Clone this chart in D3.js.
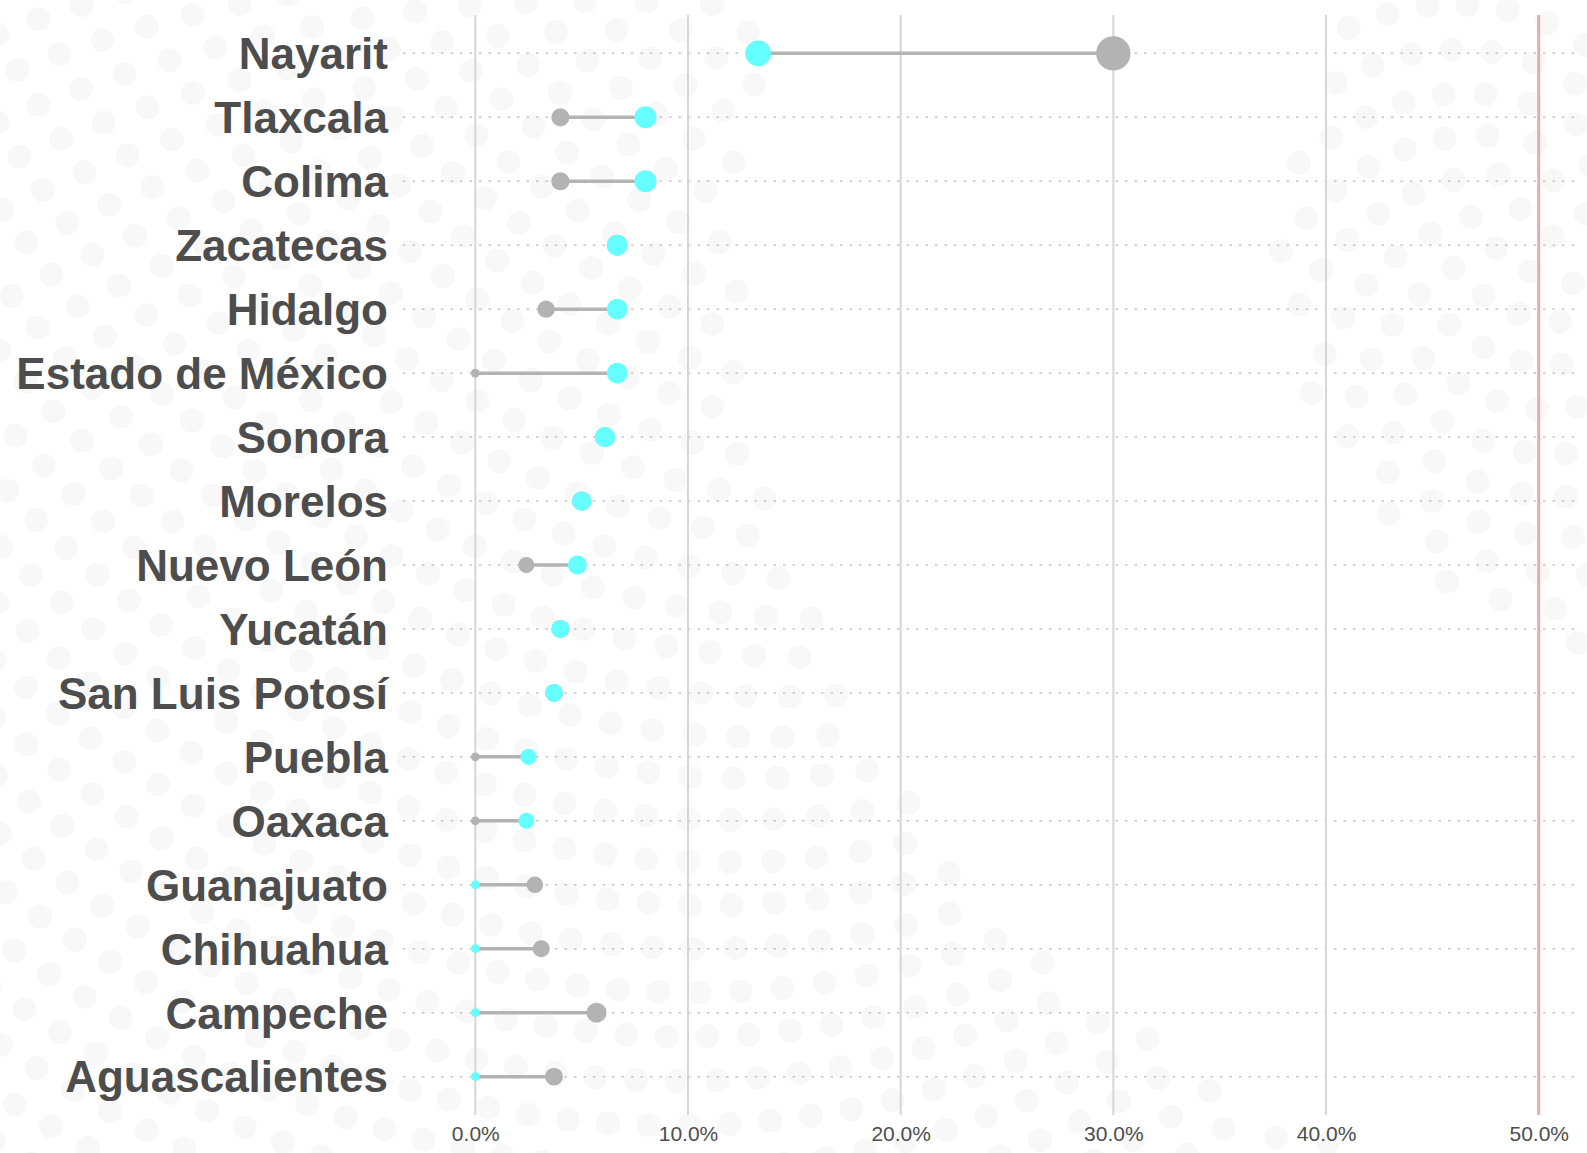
<!DOCTYPE html>
<html>
<head>
<meta charset="utf-8">
<script src="https://cdn.jsdelivr.net/npm/d3@7"></script>
<style>
  body { margin: 0; background: #fff; }
  svg { display: block; font-family: "Liberation Sans", Arial, sans-serif; }
</style>
</head>
<body>
<div id="chart"></div>
<script>
const W = 1587, H = 1153;

// estados, de arriba abajo
const estados = ["Nayarit", "Tlaxcala", "Colima", "Zacatecas", "Hidalgo", "Estado de México",
  "Sonora", "Morelos", "Nuevo León", "Yucatán", "San Luis Potosí", "Puebla", "Oaxaca",
  "Guanajuato", "Chihuahua", "Campeche", "Aguascalientes"];
// serie gris (anterior)
const anterior = [0.300, 0.040, 0.040, 0.0667, 0.0333, 0, 0.061, 0.050, 0.024, 0.040, 0.037,
  0, 0, 0.028, 0.031, 0.057, 0.037];
// serie cian (actual)
const actual = [0.133, 0.080, 0.080, 0.0667, 0.0667, 0.0667, 0.061, 0.050, 0.048, 0.040, 0.037,
  0.025, 0.024, 0, 0, 0, 0];
const ticks = [0, 0.1, 0.2, 0.3, 0.4, 0.5];
const meta = 0.5;

const data = estados.map((e, i) => ({ estado: e, a: anterior[i], b: actual[i] }));

const panel = { left: 403, right: 1577, top: 15, bottom: 1115 };

const svg = d3.select("#chart").append("svg")
  .attr("width", W).attr("height", H);

// ! fondo decorativo de puntos (espiral)
const bg = svg.append("g");
const golden = Math.PI * (3 - Math.sqrt(5));
const cx = 1700, cy = 250, c = 24;
const dots = [];
for (let i = 1; i < 12000; i++) {
  const r = c * Math.sqrt(i), t = i * golden;
  const px = cx + r * Math.cos(t), py = cy + r * Math.sin(t);
  if (px < -15 || px > W + 15 || py < -15 || py > H + 15) continue;
  if (r > 420 && r < 960) continue;
  dots.push([px, py]);
}
bg.selectAll("circle").data(dots).enter().append("circle")
  .attr("cx", d => d[0]).attr("cy", d => d[1]).attr("r", 12)
  .attr("fill", "#f8f8f8");

// scales
const x = d3.scaleLinear().domain([-0.034, 0.518]).range([panel.left, panel.right]);
const y = d3.scalePoint().domain(estados).range([panel.top, panel.bottom]).padding(0.6);
const size = d3.scaleSqrt().domain([0, 0.30]).range([4.4, 17.2]);

// horizontal dotted grid
svg.append("g").selectAll("line").data(estados).enter().append("line")
  .attr("x1", panel.left).attr("x2", panel.right)
  .attr("y1", d => y(d)).attr("y2", d => y(d))
  .attr("stroke", "#c4c4c4").attr("stroke-width", 1.5)
  .attr("stroke-dasharray", "2.5,7");

// vertical grid
svg.append("g").selectAll("line").data(ticks.filter(t => t !== meta)).enter().append("line")
  .attr("x1", d => x(d)).attr("x2", d => x(d))
  .attr("y1", panel.top).attr("y2", panel.bottom)
  .attr("stroke", "#d6d6d6").attr("stroke-width", 2);

svg.append("line")
  .attr("x1", x(meta)).attr("x2", x(meta))
  .attr("y1", panel.top).attr("y2", panel.bottom)
  .attr("stroke", "#e2adad").attr("stroke-width", 3);

// x axis tick labels
const xAxis = svg.append("g")
  .attr("transform", `translate(0, ${panel.bottom})`)
  .call(d3.axisBottom(x).tickValues(ticks).tickFormat(d3.format(".1%")).tickSize(0).tickPadding(11));
xAxis.select(".domain").remove();
xAxis.selectAll("text")
  .attr("fill", "#4d4d4d").style("font-size", "21px").style("font-family", "'Liberation Sans Narrow', 'Liberation Sans', Arial, sans-serif")
  .attr("dy", "0.71em");

// state labels
svg.append("g").selectAll("text").data(estados).enter().append("text")
  .attr("x", 388).attr("y", d => y(d)).attr("dy", "0.36em")
  .attr("text-anchor", "end")
  .attr("fill", "#4d4d4d").style("font-size", "44px").style("font-weight", "bold")
  .text(d => d);

// segments
svg.append("g").selectAll("line").data(data).enter().append("line")
  .attr("x1", d => x(d.a)).attr("x2", d => x(d.b))
  .attr("y1", d => y(d.estado)).attr("y2", d => y(d.estado))
  .attr("stroke", "#b3b3b3").attr("stroke-width", 3.5);

// gray points
svg.append("g").selectAll("circle").data(data).enter().append("circle")
  .attr("cx", d => x(d.a)).attr("cy", d => y(d.estado)).attr("r", d => size(d.a))
  .attr("fill", "#b3b3b3");

// cyan points
svg.append("g").selectAll("circle").data(data).enter().append("circle")
  .attr("cx", d => x(d.b)).attr("cy", d => y(d.estado)).attr("r", d => size(d.b))
  .attr("fill", "#66ffff");
</script>
</body>
</html>
